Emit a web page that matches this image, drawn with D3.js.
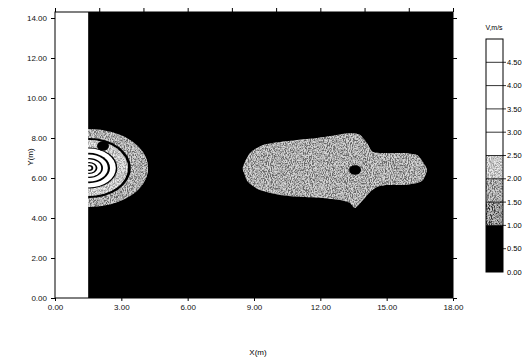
<!DOCTYPE html>
<html><head><meta charset="utf-8">
<script src="https://cdn.jsdelivr.net/npm/d3@7"></script>
<style>
body{margin:0;background:#fff;}
svg{display:block;font-family:"Liberation Sans",Arial,sans-serif;}
</style></head>
<body>
<svg id="c" width="526" height="361"></svg>
<script>
// ---- data ----
const xTicks = [0, 3, 6, 9, 12, 15, 18];
const xTopTicks = [0, 2, 4, 6, 8, 10, 12, 14, 16, 18];
const yTicks = [0, 2, 4, 6, 8, 10, 12, 14];
const legendLevels = [0, 0.5, 1, 1.5, 2, 2.5, 3, 3.5, 4, 4.5, 5];
const legendLabels = ["0.00","0.50","1.00","1.50","2.00","2.50","3.00","3.50","4.00","4.50"];
const bandLow  = [0, 1.0, 1.5, 2.0, 2.5];
const bandHigh = [1.0, 1.5, 2.0, 2.5, 5.0];
const bandFill = ["#000000", "#4e4e4e", "#979797", "#d8d8d8", "#ffffff"];
const bandSpeckle = [false, true, true, true, false];
const stripX = [0, 1.5];
// concentric source rings (centre, semi-axes in m, band index)
const ringCenter = [1.54, 6.5];
const ringRx = [2.67, 1.89, 1.76, 1.28, 1.21, 0.95, 0.85, 0.63, 0.55, 0.38, 0.30, 0.19, 0.11];
const ringRy = [1.95, 1.50, 1.40, 1.02, 0.97, 0.76, 0.68, 0.50, 0.44, 0.30, 0.24, 0.15, 0.09];
const ringBand = [2, 0, 3, 0, 4, 0, 4, 0, 4, 0, 4, 0, 4];
const spotX = [2.17, 13.57];
const spotY = [7.6, 6.4];
const spotR = [0.27, 0.27];
// downstream low-velocity region outline
const blobX = [8.50, 8.82, 9.41, 10.18, 10.95, 11.85, 12.75, 13.34, 13.80, 14.11, 14.38, 15.02, 15.74, 16.37, 16.64, 16.82, 16.64, 16.37, 15.74, 15.02, 14.56, 14.25, 13.93, 13.57, 13.34, 12.89, 12.12, 11.22, 10.18, 9.27, 8.73, 8.55];
const blobY = [6.55, 7.25, 7.65, 7.80, 7.90, 8.00, 8.15, 8.25, 8.15, 7.75, 7.30, 7.25, 7.25, 7.15, 6.80, 6.40, 5.90, 5.75, 5.65, 5.65, 5.55, 5.30, 4.90, 4.50, 4.75, 4.90, 5.00, 5.05, 5.15, 5.40, 5.80, 6.25];
const blobBand = 2;

// ---- chart ----
const svg = d3.select("#c");
const x = d3.scaleLinear().domain([0, 18]).range([55, 453]);
const y = d3.scaleLinear().domain([0, 14.3]).range([298, 12]);
const yMax = 14.3;

const defs = svg.append("defs");
const f = defs.append("filter").attr("id", "spk").attr("x", "-5%").attr("y", "-5%").attr("width", "110%").attr("height", "110%");
f.append("feTurbulence").attr("type", "fractalNoise").attr("baseFrequency", "0.95 0.6").attr("numOctaves", 2).attr("seed", 4).attr("result", "n");
f.append("feColorMatrix").attr("in", "n").attr("type", "matrix")
  .attr("values", "3.2 0 0 0 -1.1  3.2 0 0 0 -1.1  3.2 0 0 0 -1.1  0 0 0 0 0.55").attr("result", "g");
f.append("feComposite").attr("in", "g").attr("in2", "SourceGraphic").attr("operator", "in").attr("result", "c");
const fm = f.append("feMerge");
fm.append("feMergeNode").attr("in", "SourceGraphic");
fm.append("feMergeNode").attr("in", "c");

defs.append("clipPath").attr("id", "plotclip").append("rect")
  .attr("x", x(0)).attr("y", y(yMax)).attr("width", x(18) - x(0)).attr("height", y(0) - y(yMax));

const plot = svg.append("g").attr("clip-path", "url(#plotclip)");
// background band (<1.0)
plot.append("rect").attr("x", x(0)).attr("y", y(yMax)).attr("width", x(18) - x(0)).attr("height", y(0) - y(yMax)).attr("fill", bandFill[0]);

function styleBand(sel, b) {
  sel.attr("fill", bandFill[b]);
  if (bandSpeckle[b]) sel.attr("filter", "url(#spk)");
}

// rings
ringRx.forEach((rx, i) => {
  const e = plot.append("ellipse")
    .attr("cx", x(ringCenter[0])).attr("cy", y(ringCenter[1]))
    .attr("rx", x(rx) - x(0)).attr("ry", y(0) - y(ringRy[i]));
  styleBand(e, ringBand[i]);
});

// blob
const blobPts = blobX.map((v, i) => [x(v), y(blobY[i])]);
const bp = plot.append("path").attr("d", d3.line().curve(d3.curveCardinalClosed.tension(0.3))(blobPts));
styleBand(bp, blobBand);

// spots
spotX.forEach((v, i) => {
  plot.append("ellipse").attr("cx", x(v)).attr("cy", y(spotY[i]))
    .attr("rx", x(spotR[i]) - x(0)).attr("ry", (y(0) - y(spotR[i])) * 0.9).attr("fill", "#000");
});

// white strip
plot.append("rect").attr("x", x(stripX[0])).attr("y", y(yMax)).attr("width", x(stripX[1]) - x(stripX[0])).attr("height", y(0) - y(yMax)).attr("fill", "#fff");

// frame
svg.append("rect").attr("x", x(0)).attr("y", y(yMax)).attr("width", x(18) - x(0)).attr("height", y(0) - y(yMax))
  .attr("fill", "none").attr("stroke", "#000").attr("stroke-width", 1);

const fmt = d3.format(".2f");
// axes
const xAxis = svg.append("g").attr("transform", `translate(0,${y(0)})`)
  .call(d3.axisBottom(x).tickValues(xTicks).tickFormat(fmt).tickSize(3).tickSizeOuter(0));
const xTop = svg.append("g").attr("transform", `translate(0,${y(yMax)})`)
  .call(d3.axisTop(x).tickValues(xTopTicks).tickFormat("").tickSize(4).tickSizeOuter(0));
const yAxis = svg.append("g").attr("transform", `translate(${x(0)},0)`)
  .call(d3.axisLeft(y).tickValues(yTicks).tickFormat(fmt).tickSize(4).tickSizeOuter(0));
const yRight = svg.append("g").attr("transform", `translate(${x(18)},0)`)
  .call(d3.axisRight(y).tickValues(yTicks).tickFormat("").tickSize(4).tickSizeOuter(0));
[xAxis, xTop, yAxis, yRight].forEach(a => {
  a.select(".domain").remove();
  a.selectAll("text").attr("font-size", 8).attr("fill", "#111").attr("font-family", "\"Liberation Sans\",Arial,sans-serif");
  a.selectAll("line").attr("stroke", "#000");
});
xAxis.selectAll("text").attr("dy", "0.75em");
yAxis.selectAll("text").attr("dx", "-1");

svg.append("text").attr("x", 258).attr("y", 355).attr("text-anchor", "middle").attr("font-size", 8).text("X(m)");
svg.append("text").attr("transform", "translate(33,157) rotate(-90)").attr("text-anchor", "middle").attr("font-size", 8).text("Y(m)");

// legend
const ly = d3.scaleLinear().domain([0, 5]).range([272, 39]);
const lx0 = 486, lw = 17;
const lg = svg.append("g");
bandLow.forEach((lo, i) => {
  const r = lg.append("rect").attr("x", lx0).attr("y", ly(bandHigh[i])).attr("width", lw).attr("height", ly(lo) - ly(bandHigh[i]));
  styleBand(r, i);
});
lg.append("rect").attr("x", lx0).attr("y", ly(5)).attr("width", lw).attr("height", ly(0) - ly(5))
  .attr("fill", "none").attr("stroke", "#000").attr("stroke-width", 1);
legendLevels.slice(1, -1).forEach(v => {
  lg.append("line").attr("x1", lx0).attr("x2", lx0 + lw + 3).attr("y1", ly(v)).attr("y2", ly(v)).attr("stroke", "#000").attr("stroke-width", 0.8);
});
legendLabels.forEach((t, i) => {
  lg.append("text").attr("x", lx0 + lw + 4).attr("y", ly(legendLevels[i])).attr("dy", "0.35em").attr("font-size", 7.5).text(t);
});
lg.append("text").attr("x", 494).attr("y", 30).attr("text-anchor", "middle").attr("font-size", 7).text("V,m/s");
</script>
</body></html>
